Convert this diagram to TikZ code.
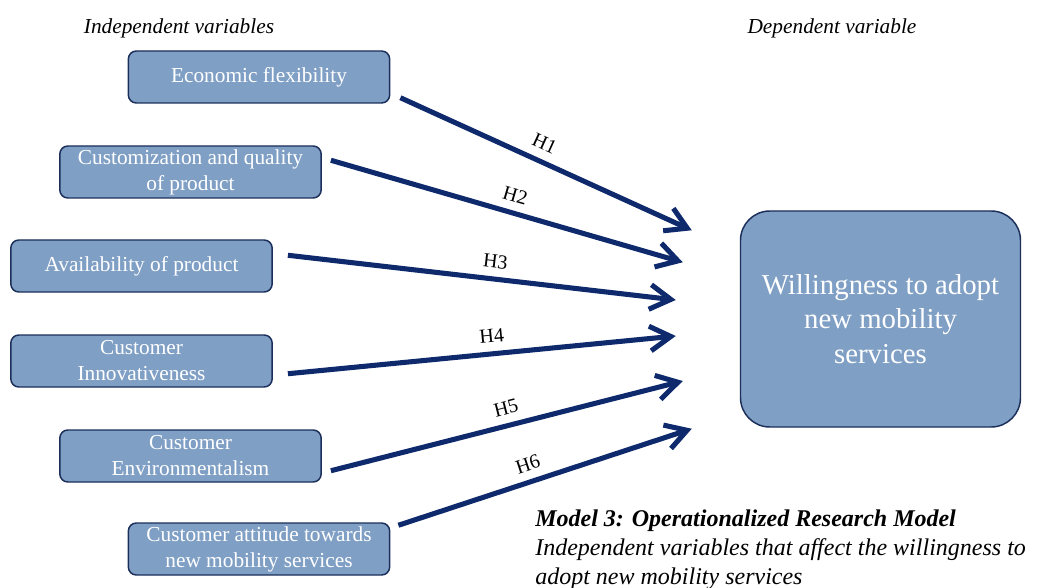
\documentclass[tikz,border=0pt]{standalone}
\usepackage{fontspec}
\setmainfont{Liberation Serif}
\usepackage{tikz}
\usetikzlibrary{arrows.meta, positioning, calc}
\definecolor{boxfill}{HTML}{7F9FC5}
\definecolor{boxline}{HTML}{1B2F5A}
\definecolor{hypline}{HTML}{0E2A6C}

\begin{document}
\begin{tikzpicture}[
    x=0.75pt, y=-0.75pt,
    varbox/.style={draw=boxline, line width=1.1pt, rounded corners=6pt,
                   fill=boxfill, text=white, align=center,
                   minimum width=196pt, minimum height=39pt, inner sep=2pt,
                   font=\fontsize{16}{19.5}\selectfont},
    depbox/.style={draw=boxline, line width=1.1pt, rounded corners=22pt,
                   fill=boxfill, text=white, align=center,
                   minimum width=210pt, minimum height=162pt,
                   font=\fontsize{21.6}{26}\selectfont},
    hyp/.style={-{Straight Barb[length=5.5mm, width=6.5mm]}, line width=3.8pt,
                draw=hypline},
    hlabel/.style={sloped, above=3pt, font=\fontsize{15}{18}\selectfont},
    heading/.style={font=\fontsize{16}{19}\selectfont\itshape},
]
    \useasboundingbox (0,0) rectangle (1043,588);

    % Headings
    \node[heading] (indep) at (179,28) {Independent variables};
    \node[heading] (dep) at (832,28) {Dependent variable};

    % Independent variables
    \node[varbox] (econ) at (259,77) {\strut Economic flexibility};
    \node[varbox] (custom) at (190.5,172) {Customization and quality\\of product};
    \node[varbox] (avail) at (141.5,266) {\strut Availability of product};
    \node[varbox] (innov) at (141.5,361) {Customer\\Innovativeness};
    \node[varbox] (envir) at (190.5,456) {Customer\\Environmentalism};
    \node[varbox] (attit) at (259,549) {Customer attitude towards\\new mobility services};

    % Dependent variable
    \node[depbox] (willing) at (880.5,319) {Willingness to adopt\\new mobility\\services};

    % Arrow ends
    \coordinate (s1) at ($(econ.south east)+(10,-6)$);
    \coordinate (s2) at ($(custom.north east)+(9,15)$);
    \coordinate (s3) at ($(avail.north east)+(15,16)$);
    \coordinate (s4) at ($(innov.south east)+(15,-14)$);
    \coordinate (s5) at ($(envir.south east)+(9,-12)$);
    \coordinate (s6) at ($(attit.north east)+(8,3)$);
    \coordinate (t1) at ($(willing.north west)+(-48,20)$);
    \coordinate (t2) at ($(willing.north west)+(-57,52)$);
    \coordinate (t3) at ($(willing.west)+(-64,-19)$);
    \coordinate (t4) at ($(willing.west)+(-64,17)$);
    \coordinate (t5) at ($(willing.west)+(-57,62)$);
    \coordinate (t6) at ($(willing.south west)+(-48,1)$);

    % Hypotheses
    \draw[hyp] (s1) -- node[hlabel, pos=0.47] {H1} (t1);
    \draw[hyp] (s2) -- node[hlabel, pos=0.51] {H2} (t2);
    \draw[hyp] (s3) -- node[hlabel, pos=0.53] {H3} (t3);
    \draw[hyp] (s4) -- node[hlabel, pos=0.53] {H4} (t4);
    \draw[hyp] (s5) -- node[hlabel, pos=0.51] {H5} (t5);
    \draw[hyp] (s6) -- node[hlabel, pos=0.46] {H6} (t6);

    % Caption
    \node[anchor=north west, align=left, inner sep=0pt,
          font=\fontsize{18}{21.75}\selectfont] (caption) at (535,510)
        {\textbf{\textit{Model 3: Operationalized Research Model}}\\
         \textit{Independent variables that affect the willingness to}\\
         \textit{adopt new mobility services}};
\end{tikzpicture}
\end{document}
